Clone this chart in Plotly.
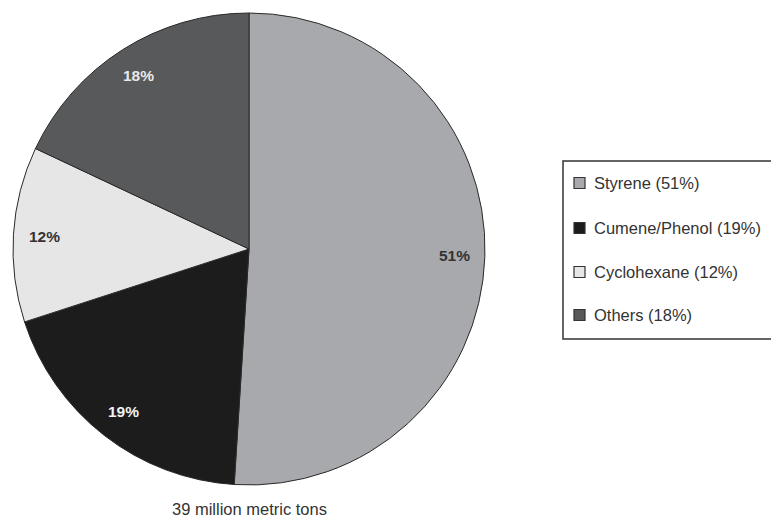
import math
import plotly.graph_objects as go

W, H = 771, 521

labels = ["Styrene", "Cumene/Phenol", "Cyclohexane", "Others"]
values = [51, 19, 12, 18]
colors = ["#a8a9ac", "#1c1c1c", "#e6e6e6", "#58595b"]
label_colors = ["#333333", "#f2f2f2", "#333333", "#e8e8e8"]
caption = "39 million metric tons"

# pie geometry in pixels
cx, cy, R = 249, 249, 236
FONT = "Liberation Sans, Arial, sans-serif"

def px(x):
    return x / W

def py(y):
    return 1 - y / H

fig = go.Figure()
fig.add_trace(go.Pie(
    labels=labels,
    values=values,
    sort=False,
    direction="clockwise",
    rotation=0,
    marker=dict(colors=colors, line=dict(color="#2a2a2a", width=1)),
    textinfo="none",
    hoverinfo="label+percent",
    showlegend=False,
    domain=dict(x=[px(cx - R), px(cx + R)], y=[py(cy + R), py(cy - R)]),
))

annotations = []
shapes = []

# percentage labels at mid-angle of each slice
total = sum(values)
cum = 0
for v, lc in zip(values, label_colors):
    mid = (cum + v / 2) / total * 2 * math.pi
    cum += v
    r = 0.87 * R
    x = cx + r * math.sin(mid)
    y = cy - r * math.cos(mid)
    annotations.append(dict(
        x=px(x), y=py(y), xref="paper", yref="paper",
        text="<b>%d%%</b>" % round(v / total * 100),
        showarrow=False, xanchor="center", yanchor="middle",
        font=dict(family=FONT, size=15.5, color=lc),
    ))

# caption
annotations.append(dict(
    x=px(cx), y=py(509), xref="paper", yref="paper",
    text=caption, showarrow=False, xanchor="center", yanchor="middle",
    font=dict(family=FONT, size=16.5, color="#333333"),
))

# legend box
shapes.append(dict(type="rect", xref="paper", yref="paper",
                   x0=px(563), x1=px(776), y0=py(339), y1=py(161),
                   line=dict(color="#333333", width=1.5), fillcolor="rgba(0,0,0,0)"))
item_y = [183, 228, 272, 315]
for lab, v, col, yy in zip(labels, values, colors, item_y):
    shapes.append(dict(type="rect", xref="paper", yref="paper",
                       x0=px(574), x1=px(585), y0=py(yy + 5.5), y1=py(yy - 5.5),
                       line=dict(color="#333333", width=1.2), fillcolor=col))
    annotations.append(dict(
        x=px(592), y=py(yy), xref="paper", yref="paper",
        text="%s (%d%%)" % (lab, v), showarrow=False,
        xanchor="left", yanchor="middle",
        font=dict(family=FONT, size=16.5, color="#333333"),
    ))

fig.update_layout(
    width=W, height=H,
    margin=dict(l=0, r=0, t=0, b=0),
    paper_bgcolor="white", plot_bgcolor="white",
    annotations=annotations, shapes=shapes,
    showlegend=False,
)

fig.write_html("out.html")
